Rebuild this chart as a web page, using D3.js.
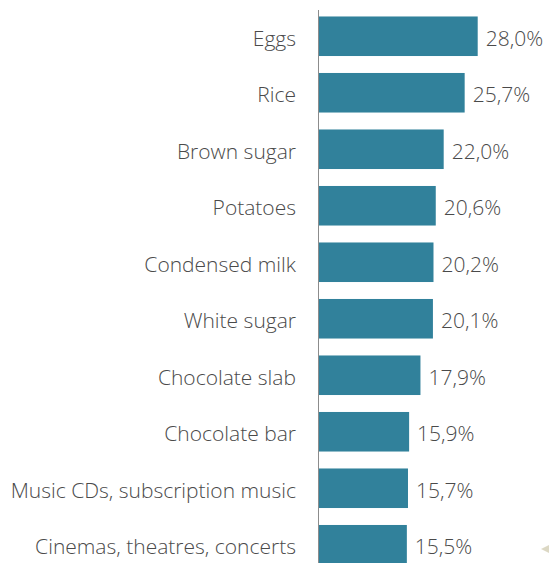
<html>
<meta charset='utf-8'>
<head>
    <script src="https://d3js.org/d3.v7.min.js"></script>
    <style>
      body { margin: 0; background: #fff; }
      text { font-family: "Open Sans", "Noto Sans", sans-serif; font-weight: 300; fill: #4a4a4a; }
    </style>
</head>
<body>
<div id='viz'></div>
<script>
    let items = ['Eggs', 'Rice', 'Brown sugar', 'Potatoes', 'Condensed milk', 'White sugar',
                 'Chocolate slab', 'Chocolate bar', 'Music CDs, subscription music', 'Cinemas, theatres, concerts'];
    let shares = [28.0, 25.7, 22.0, 20.6, 20.2, 20.1, 17.9, 15.9, 15.7, 15.5];

    function createViz() {
        let svg = d3.select('#viz').append('svg')
                    .attr('width', 549)
                    .attr('height', 563);

        let x = d3.scaleLinear().domain([0, 28]).range([319, 477.7]);
        let y = d3.scaleBand().domain(items).range([8, 573]).paddingInner(0.3).paddingOuter(0.15);

        // bars
        svg.selectAll('rect.bar')
           .data(items)
           .enter()
           .append('rect')
           .attr('class', 'bar')
           .attr('x', x(0))
           .attr('y', d => y(d))
           .attr('width', (d, i) => x(shares[i]) - x(0))
           .attr('height', y.bandwidth())
           .style('fill', '#31819b');

        // axis line
        svg.append('line')
           .attr('x1', x(0) - 0.5).attr('x2', x(0) - 0.5)
           .attr('y1', 10).attr('y2', 563)
           .style('stroke', '#8c8c8c')
           .style('stroke-width', 1);

        // category labels
        svg.selectAll('text.cat')
           .data(items)
           .enter()
           .append('text')
           .attr('class', 'cat')
           .attr('x', 296)
           .attr('y', d => y(d) + y.bandwidth() / 2 + 1.5)
           .attr('text-anchor', 'end')
           .attr('dominant-baseline', 'central')
           .attr('font-size', '21px')
           .text(d => d);

        // value labels
        svg.selectAll('text.val')
           .data(items)
           .enter()
           .append('text')
           .attr('class', 'val')
           .attr('x', (d, i) => x(shares[i]) + 8)
           .attr('y', d => y(d) + y.bandwidth() / 2 + 1.5)
           .attr('dominant-baseline', 'central')
           .attr('font-size', '21px')
           .text((d, i) => shares[i].toFixed(1).replace('.', ',') + '%');

        // little slide marker in the corner
        svg.append('path')
           .attr('d', 'M541,549 L549,545 L549,553 Z')
           .style('fill', '#dcd8c4');
    }

    createViz();
</script>
</body>
</html>
